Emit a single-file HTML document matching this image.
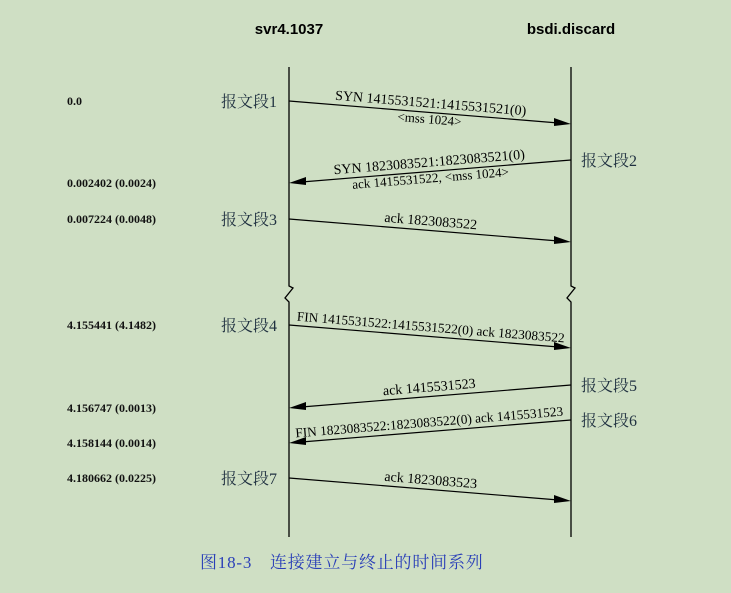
<!DOCTYPE html>
<html><head><meta charset="utf-8"><style>
html,body{margin:0;padding:0;background:#cfdfc4;}
svg{display:block;}
</style></head><body>
<svg width="731" height="593" viewBox="0 0 731 593" id="chart">
<rect width="731" height="593" fill="#cfdfc4"/>
<text x="289" y="34" text-anchor="middle" font-family="Liberation Sans, sans-serif" font-weight="bold" font-size="15">svr4.1037</text>
<text x="571" y="34" text-anchor="middle" font-family="Liberation Sans, sans-serif" font-weight="bold" font-size="15">bsdi.discard</text>
<text x="200" y="568" font-family="Liberation Serif, 'Noto Serif CJK SC', serif" font-size="17" letter-spacing="0.8" fill="#2a3fb8">图18-3　连接建立与终止的时间系列</text>
<g id="lines"></g>
<g id="msgs"></g>
</svg>
<script>
const segLabels = ["报文段1","报文段2","报文段3","报文段4","报文段5","报文段6","报文段7"];
const directions = [1,-1,1,1,-1,-1,1];
const startY = [101,160,219,325,385,420,478];
const timeLabels = ["0.0","0.002402 (0.0024)","0.007224 (0.0048)","4.155441 (4.1482)","4.156747 (0.0013)","4.158144 (0.0014)","4.180662 (0.0225)"];
const lineTop = ["SYN  1415531521:1415531521(0)","SYN  1823083521:1823083521(0)","ack 1823083522","FIN  1415531522:1415531522(0) ack 1823083522","ack 1415531523","FIN  1823083522:1823083522(0) ack 1415531523","ack 1823083523"];
const lineBottom = ["<mss 1024>","ack 1415531522, <mss 1024>","","","","",""];
const NS="http://www.w3.org/2000/svg";
const LX=289, RX=571, DROP=23;
function mk(t,a,p){const e=document.createElementNS(NS,t);for(const k in a)e.setAttribute(k,a[k]);(p||document.getElementById('msgs')).appendChild(e);return e;}
const L=document.getElementById('lines');
[LX,RX].forEach((x,i)=>{
  const g=mk('path',{d:`M${x} 67 L${x} 286 L${x+4} 288 L${x-4} 298 L${x} 302 L${x} 537`,stroke:'#000','stroke-width':1.3,fill:'none'},L);
  
  
});
const ang=Math.atan2(DROP,RX-LX)*180/Math.PI;
for(let i=0;i<segLabels.length;i++){
  const d=directions[i], y1=startY[i], y2=y1+DROP;
  const x1=d>0?LX:RX, x2=d>0?RX:LX;
  const ln=mk('line',{x1:x1,y1:y1,x2:x2-d*14,y2:y2-DROP*14/(RX-LX),stroke:'#000','stroke-width':1.2});
  
  
  const hx=x2,hy=y2;
  const ah=mk('polygon',{points:`${hx},${hy} ${hx-d*17},${hy-6} ${hx-d*17},${hy+2}`,fill:'#000'});
  
  
  const lx=d>0?221:581;
  const sl=mk('text',{x:lx,y:y1+6,'font-family':"Liberation Serif, 'Noto Serif CJK SC', serif",'font-size':16,fill:'#1f3040'});
  sl.textContent=segLabels[i];
  
  
  const tl=mk('text',{x:67,y:(d>0?y1+4:y2+4),'font-family':"Liberation Serif, serif",'font-size':12,'font-weight':'bold',fill:'#111'});
  tl.textContent=timeLabels[i];
  
  
  const mx=(LX+RX)/2, my=(y1+y2)/2;
  const a=d>0?ang:-ang;
  const fs=lineTop[i].length>35?13.3:14;
  const t1=mk('text',{x:mx,y:my-5,'text-anchor':'middle','font-family':"Liberation Serif, serif",'font-size':fs,transform:`rotate(${a} ${mx} ${my})`});
  t1.textContent=lineTop[i];
  
  
  if(lineBottom[i]){
    const t2=mk('text',{x:mx,y:my+11,'text-anchor':'middle','font-family':"Liberation Serif, serif",'font-size':13,transform:`rotate(${a} ${mx} ${my})`});
    t2.textContent=lineBottom[i];
    
    
  }
}
</script>
</body></html>
